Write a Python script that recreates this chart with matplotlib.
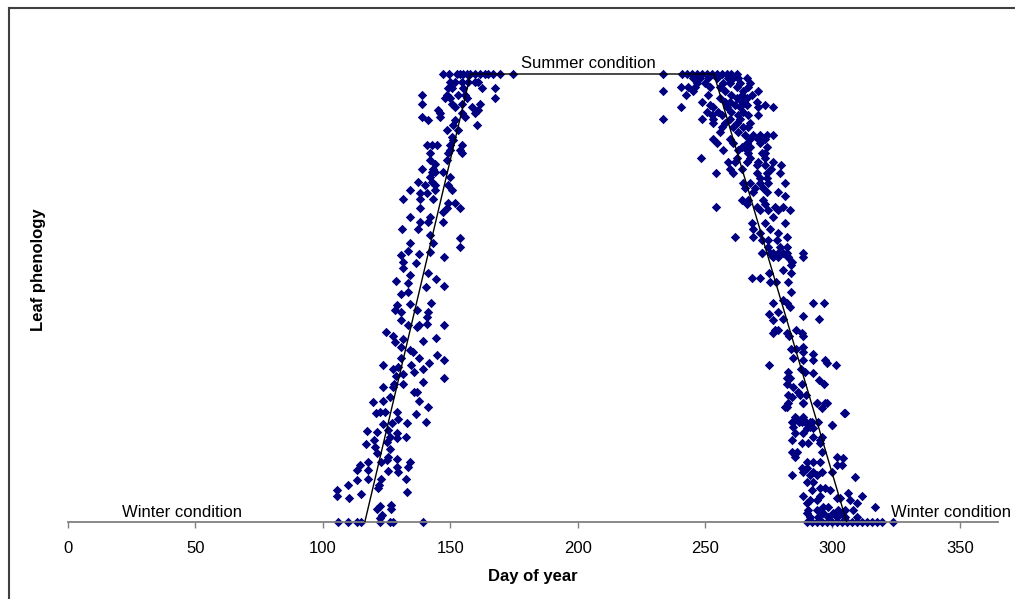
import matplotlib
matplotlib.use("Agg")
import matplotlib.pyplot as plt
from matplotlib.lines import Line2D

plt.rcParams['font.family'] = ['Liberation Sans', 'DejaVu Sans']

spring_upper = [
    (147.3, 1.0), (149.7, 1.0), (152.5, 1.0), (153.8, 1.0), (155.2, 1.0), (156.5, 1.0), (157.8, 1.0),
    (159.7, 1.0), (161.7, 1.0), (163.7, 1.0), (165.0, 1.0), (166.9, 1.0), (169.5, 1.0), (174.8, 1.0),
    (149.9, .983), (151.9, .983), (154.5, .983), (157.1, .983), (159.7, .983), (161.0, .983),
    (149.3, .968), (150.6, .968), (155.2, .968), (162.3, .968), (167.6, .968),
    (138.8, .953), (148.6, .953), (153.2, .953), (155.8, .953),
    (148.0, .946), (149.9, .946), (156.5, .946), (167.6, .946),
    (138.8, .934), (150.6, .934), (154.5, .934), (161.7, .934),
    (151.9, .927), (158.4, .927), (145.3, .92), (161.0, .92),
    (146.0, .912), (154.5, .912), (159.7, .912),
    (138.8, .905), (146.0, .905), (155.8, .905),
    (141.4, .897), (151.9, .897), (160.4, .886), (151.2, .886),
    (148.6, .875), (153.2, .875), (150.6, .86), (151.2, .853),
    (140.8, .841), (142.7, .841), (144.7, .841), (149.9, .841), (154.5, .841),
    (149.9, .83), (153.8, .83), (142.1, .823), (149.3, .823), (154.5, .823),
    (142.1, .808), (148.6, .808), (144.0, .80), (138.8, .789), (143.4, .789),
    (142.7, .782), (144.0, .782), (147.3, .782), (142.1, .771), (149.9, .771),
    (137.5, .76), (142.7, .76), (140.1, .752), (144.0, .752), (149.3, .752),
    (134.2, .741), (144.0, .741), (150.6, .741), (138.1, .734), (140.8, .734),
    (131.6, .722), (138.1, .722), (143.4, .722), (149.3, .711), (151.9, .711),
    (138.1, .70), (148.6, .70), (153.8, .70), (147.3, .693),
    (134.2, .681), (142.1, .681), (138.1, .67), (141.4, .67), (147.3, .67),
    (131.0, .655), (137.5, .655), (142.1, .641), (153.8, .633),
    (134.2, .622), (143.4, .622), (153.8, .614),
]

spring_lower = [
    (130.5, .596), (133.6, .606), (137.7, .598), (142.1, .603), (147.4, .592), (131.6, .581), (136.6, .579),
    (131.5, .566), (141.4, .555), (134.2, .551), (128.6, .539), (133.6, .533), (144.4, .542),
    (147.4, .527), (140.6, .525), (130.6, .510), (133.6, .514), (134.2, .486), (129.0, .484),
    (128.3, .473), (130.6, .469), (136.8, .473), (142.5, .489), (141.4, .469), (140.8, .458),
    (130.7, .451), (133.6, .440), (137.9, .440), (137.1, .436), (140.8, .442), (147.4, .439),
    (124.8, .425), (127.7, .415), (131.3, .408), (128.3, .402), (139.4, .405), (144.4, .411),
    (130.6, .391), (134.2, .385), (135.5, .380), (137.9, .365), (141.8, .354), (144.7, .373),
    (147.4, .361), (130.6, .367), (123.5, .350), (127.7, .342), (129.4, .345), (134.5, .350),
    (139.4, .342), (135.8, .334), (128.7, .326), (131.6, .330), (127.9, .309), (127.7, .302),
    (131.6, .307), (123.5, .302), (139.4, .313), (147.4, .321), (126.4, .280), (135.8, .291),
    (137.1, .291), (137.9, .270), (119.6, .267), (123.8, .271), (120.9, .244), (122.4, .245),
    (124.4, .246), (129.2, .245), (136.6, .241), (141.4, .256), (129.6, .229), (133.2, .222),
    (140.5, .223), (123.5, .219), (127.0, .220), (117.5, .203), (121.4, .202), (125.7, .205),
    (129.2, .199), (126.4, .189), (129.2, .187), (132.6, .189), (116.8, .174), (120.1, .184),
    (125.1, .179), (120.5, .167), (121.1, .153), (126.4, .164), (125.7, .146), (129.0, .140),
    (114.6, .127), (117.6, .133), (122.8, .134), (125.3, .138), (113.6, .116), (117.6, .116),
    (125.7, .114), (129.0, .123), (129.6, .112), (133.6, .122), (134.3, .134), (113.3, .094),
    (117.9, .095), (122.8, .097), (132.6, .095), (110.0, .082), (122.2, .082), (114.9, .062),
    (105.4, .071), (105.4, .059), (110.4, .053), (121.8, .077), (133.2, .068), (122.4, .036),
    (126.6, .039), (121.4, .028), (126.6, .028), (123.1, .015), (122.4, .008),
    (106.1, 0.0), (110.0, 0.0), (113.6, 0.0), (114.9, 0.0), (122.4, 0.0), (126.4, 0.0),
    (127.7, 0.0), (139.4, 0.0),
]

autumn_upper = [
    (233.4, 1.0), (240.8, 1.0), (242.8, 1.0), (244.8, 1.0), (246.7, 1.0), (248.7, 1.0), (250.6, 1.0),
    (252.6, 1.0), (254.6, 1.0), (256.5, 1.0), (258.5, 1.0), (260.4, 1.0), (262.4, 1.0),
    (245.4, .99), (248.0, .99), (251.3, .99), (254.6, .99), (259.1, .99), (261.1, .99), (263.1, .99), (266.3, .99),
    (246.7, .979), (250.0, .979), (257.2, .979), (259.8, .979), (263.7, .979), (267.6, .979),
    (240.4, .972), (243.4, .972), (246.1, .972), (251.9, .972), (255.9, .972), (262.4, .972), (267.0, .972),
    (233.6, .962), (245.4, .962), (257.8, .962), (265.0, .962), (270.9, .962),
    (242.5, .953), (251.3, .953), (260.4, .953), (264.4, .953), (268.3, .953),
    (255.9, .946), (262.4, .946), (266.3, .946),
    (248.7, .938), (257.8, .938), (259.8, .938), (264.4, .938), (270.3, .938),
    (251.9, .931), (261.8, .931), (266.3, .931), (273.5, .931),
    (240.4, .926), (253.3, .926), (258.5, .926), (263.7, .926), (270.9, .926), (276.5, .926),
    (250.6, .916), (255.2, .916), (260.4, .916), (265.0, .916),
    (252.6, .908), (256.5, .908), (263.1, .908), (267.0, .908), (270.9, .908),
    (233.4, .899), (248.7, .899), (253.3, .899), (259.8, .899), (263.7, .899),
    (253.3, .89), (257.8, .89), (262.4, .89), (267.6, .89),
    (256.5, .882), (261.1, .882), (265.0, .882), (267.0, .882),
    (255.9, .871), (263.1, .871),
    (265.7, .864), (268.9, .864), (271.6, .864), (274.2, .864), (276.5, .864),
    (253.3, .856), (259.8, .856), (267.6, .856), (270.9, .856), (273.5, .856),
    (254.6, .845), (261.1, .845), (266.3, .845), (271.6, .845),
    (264.4, .838), (267.6, .838), (274.2, .838), (257.2, .83), (263.1, .83), (266.3, .83),
    (267.0, .823), (272.2, .823), (273.5, .823),
    (248.4, .812), (262.4, .812), (267.6, .812), (273.5, .812),
    (259.1, .804), (261.8, .804), (266.3, .804), (270.9, .804), (276.8, .804),
    (270.3, .797), (273.5, .797), (279.7, .797), (259.8, .788), (264.4, .788), (276.1, .788),
    (254.3, .778), (261.1, .778), (270.3, .778), (274.2, .778), (279.4, .778),
    (271.6, .767), (274.2, .767),
    (265.0, .756), (267.6, .756), (271.6, .756), (274.8, .756), (281.4, .756),
    (265.7, .745), (269.6, .745), (272.9, .745), (269.0, .737), (274.2, .737), (278.8, .737),
    (281.4, .728), (264.4, .719), (267.0, .719), (272.9, .719), (266.3, .709), (273.5, .709),
    (254.3, .704), (270.3, .704), (277.5, .704), (280.7, .704),
    (271.6, .696), (274.8, .696), (278.8, .696), (283.3, .696), (276.8, .681),
    (268.3, .667), (273.5, .667), (281.4, .667), (269.0, .655), (275.5, .655),
    (271.6, .644), (278.8, .644), (261.8, .637), (269.0, .637), (282.0, .637),
    (272.2, .629), (274.8, .629), (278.1, .629), (274.8, .614), (279.4, .614), (282.0, .614),
    (272.2, .60), (276.8, .60), (280.7, .60), (278.8, .592), (282.7, .592), (288.3, .592),
    (284.0, .581),
]

autumn_mid = [
    (272.2, .60), (275.5, .60), (278.8, .60), (282.0, .60), (288.6, .60), (276.8, .592), (282.7, .592),
    (283.6, .574), (280.5, .562), (275.2, .555), (283.6, .555), (268.6, .544), (271.6, .544),
    (275.5, .536), (277.8, .536), (282.4, .536), (283.6, .513), (280.5, .495),
    (276.5, .488), (282.0, .488), (292.5, .488), (296.7, .488), (283.3, .481), (278.8, .469),
    (275.2, .464), (288.3, .46), (280.5, .454), (294.7, .454), (276.5, .451),
    (277.5, .428), (278.8, .428), (285.7, .428), (276.5, .421), (282.0, .421), (287.9, .421),
    (283.0, .415), (288.6, .415), (288.3, .391), (283.7, .387), (285.7, .387), (288.6, .38),
    (292.5, .375), (284.4, .367), (288.6, .362), (292.5, .362), (297.1, .362), (297.7, .354),
    (275.2, .35), (301.4, .35), (287.7, .341), (282.4, .335), (289.2, .335), (292.5, .332),
    (282.0, .321), (283.3, .321), (294.7, .317), (282.0, .309), (287.9, .309), (296.8, .307),
    (284.7, .302), (286.6, .291), (282.7, .283), (287.3, .283), (289.6, .283), (284.0, .28),
    (288.3, .265), (293.8, .265), (297.7, .265), (282.0, .257), (295.8, .254), (304.7, .244),
    (285.3, .235), (288.6, .235), (284.0, .224), (287.0, .224), (289.2, .224), (291.2, .224),
    (294.5, .224), (299.7, .216), (284.7, .213), (291.2, .213),
]

autumn_lower = [
    (282.7, .265), (288.6, .265), (293.8, .265), (297.1, .265), (281.4, .257), (304.9, .244),
    (286.0, .231), (288.6, .231), (284.7, .224), (287.9, .224), (291.9, .224), (299.7, .217),
    (289.9, .209), (292.5, .209), (285.3, .198), (288.6, .198), (292.5, .19), (295.8, .19),
    (284.0, .183), (295.1, .183), (287.9, .176), (290.5, .176), (295.1, .176),
    (284.0, .157), (286.0, .157), (295.8, .157), (285.3, .146), (301.7, .146), (304.3, .142),
    (289.9, .135), (292.5, .135), (295.1, .135), (301.7, .127), (303.6, .127),
    (287.9, .12), (289.9, .12), (288.6, .112), (292.5, .112), (295.8, .112), (299.7, .112),
    (284.0, .105), (291.2, .105), (293.8, .105), (308.9, .101), (289.9, .09), (292.5, .09),
    (295.1, .077), (297.1, .077), (291.9, .071), (299.0, .071), (306.2, .064),
    (288.6, .059), (295.1, .059), (311.5, .059), (301.7, .053), (303.0, .053),
    (291.2, .049), (293.8, .049), (306.9, .049), (289.9, .042), (309.5, .042),
    (296.4, .034), (298.4, .034), (316.7, .034),
    (290.5, .027), (293.8, .027), (302.3, .027), (304.9, .027), (308.2, .027),
    (289.9, .019), (296.4, .019), (300.4, .019), (303.6, .019),
    (291.2, .012), (294.5, .012), (298.4, .012), (301.7, .012), (304.9, .012), (309.5, .012),
    (289.9, 0.0), (291.9, 0.0), (293.8, 0.0), (295.8, 0.0), (297.7, 0.0), (299.7, 0.0),
    (301.7, 0.0), (303.6, 0.0), (305.6, 0.0), (307.6, 0.0), (309.5, 0.0), (311.5, 0.0),
    (313.4, 0.0), (315.4, 0.0), (317.4, 0.0), (319.3, 0.0), (323.6, 0.0),
]

# model: winter -> green-up -> summer -> senescence -> winter
model_day = [116.5, 158.0, 253.5, 305.6]
model_phen = [0.0, 1.0, 1.0, 0.0]

xticks = [0, 50, 100, 150, 200, 250, 300, 350]

fig = plt.figure(figsize=(10.15, 5.99), dpi=100)
ax = fig.add_axes([68 / 1015, 77 / 599, 930 / 1015, 472 / 599])

for pts in [spring_upper, spring_lower, autumn_upper, autumn_mid, autumn_lower]:
    days = [p[0] for p in pts]
    vals = [p[1] for p in pts]
    ax.scatter(days, vals, marker='D', s=23, color='#000080', linewidths=0, zorder=2, clip_on=False)

ax.plot(model_day, model_phen, color='black', lw=1.0, zorder=3)

ax.text(204.4, 1.013, 'Summer condition', ha='center', va='baseline', fontsize=12)
ax.text(44.9, 0.011, 'Winter condition', ha='center', va='baseline', fontsize=12)
ax.text(346.5, 0.011, 'Winter condition', ha='center', va='baseline', fontsize=12, clip_on=False)

ax.set_xlim(0, 365)
ax.set_ylim(0, 472 / 448)
ax.set_xticks(xticks)
ax.set_yticks([])
for side in ['left', 'top', 'right']:
    ax.spines[side].set_visible(False)
ax.spines['bottom'].set_color('#808080')
ax.spines['bottom'].set_linewidth(1.3)
ax.tick_params(axis='x', direction='out', length=4, width=1, color='#808080', labelsize=12, pad=10)

fig.text(533 / 1015, 1 - 577 / 599, 'Day of year', ha='center', va='center', fontsize=12, fontweight='bold')
fig.text(38 / 1015, 1 - 270 / 599, 'Leaf phenology', ha='center', va='center', rotation=90,
         fontsize=12, fontweight='bold')

# outer chart frame (left and top edges visible)
fig.add_artist(Line2D([9 / 1015, 9 / 1015], [0, 1 - 8 / 599], transform=fig.transFigure, color='#404040', lw=1.5))
fig.add_artist(Line2D([9 / 1015, 1], [1 - 8 / 599, 1 - 8 / 599], transform=fig.transFigure, color='#404040', lw=1.5))

fig.savefig('out.png', dpi=100)
